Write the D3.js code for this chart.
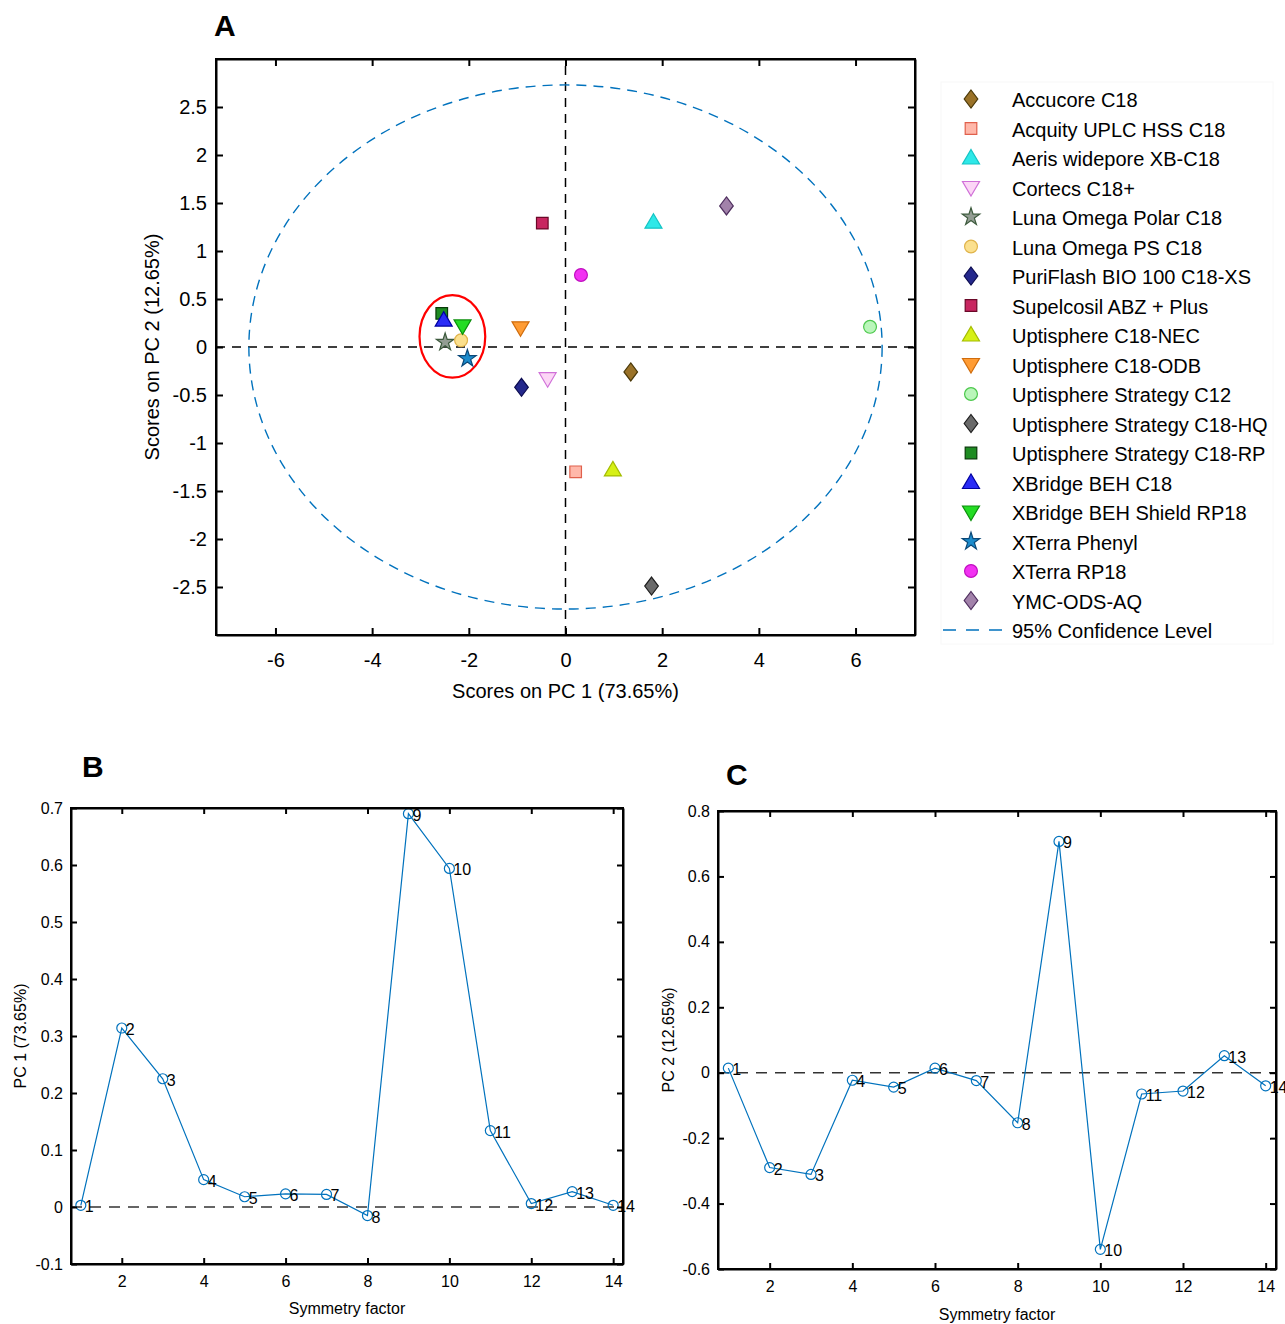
<!DOCTYPE html>
<html>
<head>
<meta charset="utf-8">
<script src="https://cdn.jsdelivr.net/npm/d3@7"></script>
<style>
  html, body { margin: 0; padding: 0; background: #fff; }
  svg { display: block; }
  text { font-family: "Liberation Sans", Arial, sans-serif; fill: #000; }
</style>
</head>
<body>
<svg id="chart" width="1285" height="1324"></svg>
<script>
// ---------------- DATA ----------------
const columns = [
  "Accucore C18", "Acquity UPLC HSS C18", "Aeris widepore XB-C18", "Cortecs C18+",
  "Luna Omega Polar C18", "Luna Omega PS C18", "PuriFlash BIO 100 C18-XS",
  "Supelcosil ABZ + Plus", "Uptisphere C18-NEC", "Uptisphere C18-ODB",
  "Uptisphere Strategy C12", "Uptisphere Strategy C18-HQ", "Uptisphere Strategy C18-RP",
  "XBridge BEH C18", "XBridge BEH Shield RP18", "XTerra Phenyl", "XTerra RP18", "YMC-ODS-AQ"
];
const pc1Scores = [1.35, 0.21, 1.82, -0.37, -2.49, -2.16, -0.91, -0.48, 0.98, -0.93, 6.30, 1.78, -2.56, -2.52, -2.13, -2.03, 0.32, 3.33];
const pc2Scores = [-0.26, -1.30, 1.30, -0.33, 0.05, 0.07, -0.42, 1.29, -1.28, 0.20, 0.21, -2.49, 0.35, 0.28, 0.22, -0.12, 0.75, 1.47];
const confidenceLabel = "95% Confidence Level";
const ellipseRadii = [6.55, 2.73];           // 95% confidence ellipse semi-axes (PC1, PC2)
const clusterEllipse = [-2.34, 0.11, 0.68, 0.43]; // cx, cy, rx, ry (data units)

const pcAxisTicksX = [-6, -4, -2, 0, 2, 4, 6];
const pcAxisTicksY = [-2.5, -2, -1.5, -1, -0.5, 0, 0.5, 1, 1.5, 2, 2.5];

const variables = [1, 2, 3, 4, 5, 6, 7, 8, 9, 10, 11, 12, 13, 14];
const pc1Loadings = [0.003, 0.314, 0.225, 0.048, 0.018, 0.023, 0.022, -0.015, 0.690, 0.594, 0.134, 0.006, 0.027, 0.003];
const pc2Loadings = [0.014, -0.290, -0.311, -0.023, -0.044, 0.014, -0.024, -0.153, 0.707, -0.540, -0.065, -0.056, 0.052, -0.040];
const loadTicksX = [2, 4, 6, 8, 10, 12, 14];
const loadTicksB = [-0.1, 0, 0.1, 0.2, 0.3, 0.4, 0.5, 0.6, 0.7];
const loadTicksC = [-0.6, -0.4, -0.2, 0, 0.2, 0.4, 0.6, 0.8];

// ---------------- STYLES ----------------
const markerStyles = [
  ["diamond", "#9a7228", "#4a3808"],
  ["square",  "#ffb8aa", "#e0604c"],
  ["triUp",   "#2ee8e8", "#14c4c4"],
  ["triDown", "#fcd6f6", "#d070d8"],
  ["star",    "#939d93", "#3c5a3c"],
  ["circle",  "#fbe08e", "#e0b44c"],
  ["diamond", "#24288c", "#0c0c50"],
  ["square",  "#c82660", "#6a0828"],
  ["triUp",   "#d6f016", "#a4bc00"],
  ["triDown", "#ff9c34", "#d06c0c"],
  ["circle",  "#baf6ba", "#4cc84c"],
  ["diamond", "#6a6a6a", "#1e1e1e"],
  ["square",  "#1e8c22", "#083a08"],
  ["triUp",   "#2a2cf6", "#0000a0"],
  ["triDown", "#24dc24", "#0c900c"],
  ["star",    "#1c8ccc", "#0a4878"],
  ["circle",  "#f232f2", "#c010c0"],
  ["diamond", "#a282aa", "#4e2e5e"]
];
const BLUE = "#0072BD";

function markerPath(shape) {
  switch (shape) {
    case "diamond": return "M0,-9L6.8,0L0,9L-6.8,0Z";
    case "square": return "M-5.8,-5.8H5.8V5.8H-5.8Z";
    case "triUp": return "M0,-8.5L8.5,6L-8.5,6Z";
    case "triDown": return "M0,8.5L8.5,-6L-8.5,-6Z";
    case "circle": return d3.symbol(d3.symbolCircle, 130)();
    case "star": return d3.symbol(d3.symbolStar, 95)();
  }
}

const svg = d3.select("#chart");
const fmt = d => String(+d.toFixed(2));

function boxAxes(g, x, y, xt, yt, opts) {
  const tl = opts.tick;
  const fs = opts.fontSize;
  const [x0, x1] = x.range();
  const [y0, y1] = y.range();
  const bottom = g.append("g").attr("transform", `translate(0,${y0})`)
    .call(d3.axisBottom(x).tickValues(xt).tickSizeInner(-tl).tickSizeOuter(0).tickPadding(opts.padX).tickFormat(fmt));
  const top = g.append("g").attr("transform", `translate(0,${y1})`)
    .call(d3.axisTop(x).tickValues(xt).tickSizeInner(-tl).tickSizeOuter(0).tickFormat(""));
  const left = g.append("g").attr("transform", `translate(${x0},0)`)
    .call(d3.axisLeft(y).tickValues(yt).tickSizeInner(-tl).tickSizeOuter(0).tickPadding(opts.padY).tickFormat(fmt));
  const right = g.append("g").attr("transform", `translate(${x1},0)`)
    .call(d3.axisRight(y).tickValues(yt).tickSizeInner(-tl).tickSizeOuter(0).tickFormat(""));
  [bottom, top, left, right].forEach(a => {
    a.attr("font-size", fs).attr("font-family", "Liberation Sans, Arial, sans-serif");
    a.select(".domain").attr("stroke", "#000").attr("stroke-width", 2);
    a.selectAll(".tick line").attr("stroke", "#000").attr("stroke-width", 2);
    a.selectAll("text").attr("font-size", fs).attr("fill", "#000");
  });
  g.append("rect").attr("x", x0).attr("y", y1).attr("width", x1 - x0).attr("height", y0 - y1)
    .attr("fill", "none").attr("stroke", "#000").attr("stroke-width", 2);
}

// ---------------- PANEL A ----------------
{
  const x = d3.scaleLinear([-7.23, 7.23], [216, 915]);
  const y = d3.scaleLinear([-3, 3], [635, 59]);
  const g = svg.append("g");

  // zero lines
  g.append("line").attr("x1", x.range()[0]).attr("x2", x.range()[1]).attr("y1", y(0)).attr("y2", y(0))
    .attr("stroke", "#000").attr("stroke-width", 1.5).attr("stroke-dasharray", "9,7");
  g.append("line").attr("x1", x(0)).attr("x2", x(0)).attr("y1", y.range()[0]).attr("y2", y.range()[1])
    .attr("stroke", "#000").attr("stroke-width", 1.5).attr("stroke-dasharray", "9,7");

  // 95% confidence ellipse
  g.append("ellipse").attr("cx", x(0)).attr("cy", y(0))
    .attr("rx", x(ellipseRadii[0]) - x(0)).attr("ry", y(0) - y(ellipseRadii[1]))
    .attr("fill", "none").attr("stroke", BLUE).attr("stroke-width", 1.4).attr("stroke-dasharray", "10,7");

  // cluster ellipse
  g.append("ellipse").attr("cx", x(clusterEllipse[0])).attr("cy", y(clusterEllipse[1]))
    .attr("rx", x(clusterEllipse[2]) - x(0)).attr("ry", y(0) - y(clusterEllipse[3]))
    .attr("fill", "none").attr("stroke", "#ff0000").attr("stroke-width", 2.2);

  // points
  g.selectAll("path.pt").data(columns).join("path").attr("class", "pt")
    .attr("transform", (d, i) => `translate(${x(pc1Scores[i])},${y(pc2Scores[i])})`)
    .attr("d", (d, i) => markerPath(markerStyles[i][0]))
    .attr("fill", (d, i) => markerStyles[i][1])
    .attr("stroke", (d, i) => markerStyles[i][2])
    .attr("stroke-width", 1.2);

  boxAxes(g, x, y, pcAxisTicksX, pcAxisTicksY, { tick: 7, fontSize: 20, padX: 18, padY: 9 });

  g.append("text").attr("x", x(0)).attr("y", 698).attr("text-anchor", "middle").attr("font-size", 20)
    .text("Scores on PC 1 (73.65%)");
  g.append("text").attr("transform", `translate(159,${y(0)}) rotate(-90)`).attr("text-anchor", "middle").attr("font-size", 20)
    .text("Scores on PC 2 (12.65%)");
  svg.append("text").attr("x", 214).attr("y", 36).attr("font-family", "Liberation Serif, Times New Roman, serif")
    .attr("font-weight", "bold").attr("font-size", 30).text("A");

  // legend
  const lg = svg.append("g");
  lg.append("rect").attr("x", 941).attr("y", 82).attr("width", 332).attr("height", 562)
    .attr("fill", "none").attr("stroke", "#f8f8f8").attr("stroke-width", 1);
  const ly = d3.scaleLinear([0, columns.length], [99, 99 + 29.5 * columns.length]);
  const rows = lg.selectAll("g.row").data(columns).join("g").attr("class", "row")
    .attr("transform", (d, i) => `translate(0,${ly(i)})`);
  rows.append("path").attr("transform", "translate(971,0)")
    .attr("d", (d, i) => markerPath(markerStyles[i][0]))
    .attr("fill", (d, i) => markerStyles[i][1])
    .attr("stroke", (d, i) => markerStyles[i][2])
    .attr("stroke-width", 1.2);
  rows.append("text").attr("x", 1012).attr("y", 8).attr("font-size", 20).text(d => d);
  const cy = ly(columns.length);
  lg.append("line").attr("x1", 943).attr("x2", 1004).attr("y1", cy).attr("y2", cy)
    .attr("stroke", BLUE).attr("stroke-width", 1.6).attr("stroke-dasharray", "13,10");
  lg.append("text").attr("x", 1012).attr("y", cy + 8).attr("font-size", 20).text(confidenceLabel);
}

// ---------------- LOADING PANELS ----------------
function loadingPanel(opts) {
  const { x, y, values, xt, yt, yLabel, letter, letterPos, ylabX, xlabY } = opts;
  const g = svg.append("g");
  g.append("line").attr("x1", x.range()[0]).attr("x2", x.range()[1]).attr("y1", y(0)).attr("y2", y(0))
    .attr("stroke", "#333").attr("stroke-width", 1.5).attr("stroke-dasharray", "11,8");
  const line = d3.line().x((d, i) => x(variables[i])).y(d => y(d));
  g.append("path").datum(values).attr("d", line).attr("fill", "none").attr("stroke", BLUE).attr("stroke-width", 1.2);
  g.selectAll("circle.m").data(values).join("circle").attr("class", "m")
    .attr("cx", (d, i) => x(variables[i])).attr("cy", d => y(d)).attr("r", 5)
    .attr("fill", "none").attr("stroke", BLUE).attr("stroke-width", 1.2);
  g.selectAll("text.lab").data(values).join("text").attr("class", "lab")
    .attr("x", (d, i) => x(variables[i]) + 4).attr("y", d => y(d) + 7)
    .attr("font-size", 16).text((d, i) => variables[i]);
  boxAxes(g, x, y, xt, yt, { tick: 6, fontSize: 16, padX: 12, padY: 8 });
  const [x0, x1] = x.range();
  g.append("text").attr("x", (x0 + x1) / 2).attr("y", xlabY).attr("text-anchor", "middle").attr("font-size", 16)
    .text("Symmetry factor");
  g.append("text").attr("transform", `translate(${ylabX},${(y.range()[0] + y.range()[1]) / 2}) rotate(-90)`)
    .attr("text-anchor", "middle").attr("font-size", 16).text(yLabel);
  svg.append("text").attr("x", letterPos[0]).attr("y", letterPos[1]).attr("font-family", "Liberation Serif, Times New Roman, serif")
    .attr("font-weight", "bold").attr("font-size", 30).text(letter);
}

loadingPanel({
  x: d3.scaleLinear([0.76, 14.24], [71, 623]),
  y: d3.scaleLinear([-0.1, 0.7], [1264, 808]),
  values: pc1Loadings, xt: loadTicksX, yt: loadTicksB,
  yLabel: "PC 1 (73.65%)", letter: "B", letterPos: [82, 777], ylabX: 26, xlabY: 1314
});
loadingPanel({
  x: d3.scaleLinear([0.75, 14.25], [718, 1276]),
  y: d3.scaleLinear([-0.6, 0.8], [1269, 811]),
  values: pc2Loadings, xt: loadTicksX, yt: loadTicksC,
  yLabel: "PC 2 (12.65%)", letter: "C", letterPos: [726, 785], ylabX: 674, xlabY: 1320
});
</script>
</body>
</html>
